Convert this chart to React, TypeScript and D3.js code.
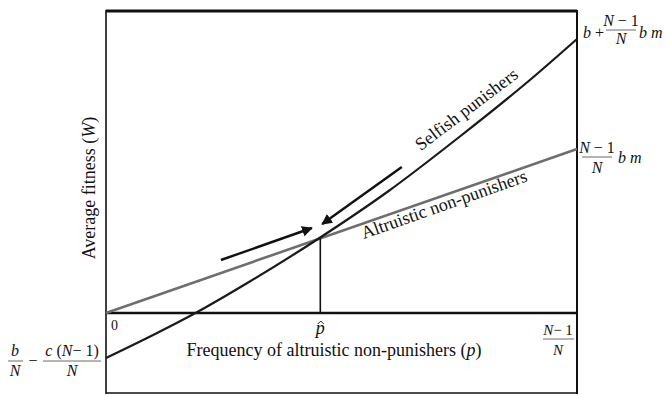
import * as d3 from "d3";

// frequency of altruistic non-punishers, normalised so (N-1)/N = 1
const selfishP = [0, 0.1, 0.19, 0.3, 0.45, 0.6, 0.75, 0.9, 1.0];
const selfishW = [-0.45, -0.22, 0, 0.3, 0.74, 1.22, 1.76, 2.33, 2.74];
const altruisticP = [0, 1];
const altruisticW = [0, 1.64];
const pHat = 0.455;
const pHatW = 0.746;
// arrows toward the equilibrium: [p0, W0, p1, W1]
const arrows = [
  [0.244, 0.53, 0.437, 0.85],
  [0.628, 1.46, 0.459, 0.89],
];

const W = 669;
const H = 395;
const ts = { fontFamily: "Liberation Serif" };

export default function App() {
  const x = d3.scaleLinear().domain([0, 1]).range([106, 577]);
  const y = d3.scaleLinear().domain([-0.81, 3.03]).range([394, 10]);

  const curve = d3
    .line<number>()
    .x((_, i) => x(selfishP[i]))
    .y((d) => y(d))
    .curve(d3.curveMonotoneX);

  const straight = d3
    .line<number>()
    .x((_, i) => x(altruisticP[i]))
    .y((d) => y(d));

  const hx = x(pHat);

  return (
    <svg
      width={W}
      height={H}
      style={{ position: "absolute", left: 0, top: 0, background: "#fff", fontFamily: "Liberation Serif" }}
    >
      <defs>
        <marker
          id="head"
          viewBox="0 0 10 10"
          refX="9"
          refY="5"
          markerWidth="4.5"
          markerHeight="4.5"
          orient="auto"
        >
          <path d="M0,0 L10,5 L0,10 z" fill="#111" />
        </marker>
      </defs>

      {/* frame */}
      <line x1={x(0)} x2={x(1)} y1={y(3.03) + 1} y2={y(3.03) + 1} stroke="#111" strokeWidth={3} />
      <line x1={x(0)} x2={x(0)} y1={y(3.03)} y2={y(-0.81)} stroke="#111" strokeWidth={1.6} />
      <line x1={x(1)} x2={x(1)} y1={y(3.03)} y2={y(-0.81)} stroke="#111" strokeWidth={2} />
      <line x1={x(0)} x2={x(1)} y1={y(-0.81) - 1} y2={y(-0.81) - 1} stroke="#111" strokeWidth={1.6} />
      {/* p axis */}
      <line x1={x(0)} x2={x(1)} y1={y(0)} y2={y(0)} stroke="#111" strokeWidth={2.6} />

      {/* lines */}
      <path d={straight(altruisticW) ?? ""} fill="none" stroke="#6e6e6e" strokeWidth={2.6} />
      <path d={curve(selfishW) ?? ""} fill="none" stroke="#1a1a1a" strokeWidth={2.2} />
      <line x1={hx} x2={hx} y1={y(pHatW)} y2={y(0)} stroke="#111" strokeWidth={1.6} />

      {arrows.map((a, i) => (
        <line
          key={i}
          x1={x(a[0])}
          y1={y(a[1])}
          x2={x(a[2])}
          y2={y(a[3])}
          stroke="#111"
          strokeWidth={2.4}
          markerEnd="url(#head)"
        />
      ))}

      {/* curve labels */}
      <text style={ts} transform="translate(470,114) rotate(-37)" textAnchor="middle" fontSize={18} fill="#111">
        Selfish punishers
      </text>
      <text style={ts} transform="translate(446,210) rotate(-19.5)" textAnchor="middle" fontSize={18} fill="#111">
        Altruistic non-punishers
      </text>

      {/* axis titles */}
      <text style={ts} transform="translate(95,188) rotate(-90)" textAnchor="middle" fontSize={18} fill="#111">
        Average fitness (<tspan fontStyle="italic">W</tspan>)
      </text>
      <text style={ts} x={334} y={356} textAnchor="middle" fontSize={18} fill="#111">
        Frequency of altruistic non-punishers (<tspan fontStyle="italic">p</tspan>)
      </text>

      {/* tick labels */}
      <text style={ts} x={x(0) + 5} y={330} fontSize={14} fill="#111">0</text>
      <text style={ts} x={hx} y={334} textAnchor="middle" fontSize={18} fontStyle="italic" fill="#111">p</text>
      <path d={`M${hx - 2.5},${324} L${hx + 0.5},${321} L${hx + 3.5},${324}`} fill="none" stroke="#111" strokeWidth={0.9} />

      {/* (N-1)/N at p end */}
      <text style={ts} x={558} y={335} textAnchor="middle" fontSize={15} fill="#111">
        <tspan fontStyle="italic">N</tspan>− 1
      </text>
      <line x1={543} x2={574} y1={339} y2={339} stroke="#444" strokeWidth={0.8} />
      <text style={ts} x={558} y={355} textAnchor="middle" fontSize={15} fontStyle="italic" fill="#111">N</text>

      {/* left intercept b/N - c(N-1)/N */}
      <text style={ts} x={15} y={356} textAnchor="middle" fontSize={16} fontStyle="italic" fill="#111">b</text>
      <line x1={8} x2={23} y1={361} y2={361} stroke="#444" strokeWidth={0.8} />
      <text style={ts} x={15} y={376} textAnchor="middle" fontSize={16} fontStyle="italic" fill="#111">N</text>
      <text style={ts} x={33} y={366} textAnchor="middle" fontSize={16} fill="#111">−</text>
      <text style={ts} x={72} y={356} textAnchor="middle" fontSize={16} fill="#111">
        <tspan fontStyle="italic">c</tspan> (<tspan fontStyle="italic">N</tspan>− 1)
      </text>
      <line x1={43} x2={101} y1={361} y2={361} stroke="#444" strokeWidth={0.8} />
      <text style={ts} x={72} y={376} textAnchor="middle" fontSize={16} fontStyle="italic" fill="#111">N</text>

      {/* right top: b + (N-1)/N b m */}
      <text style={ts} x={583} y={38} fontSize={16} fill="#111">
        <tspan fontStyle="italic">b</tspan> +
      </text>
      <text style={ts} x={621} y={26} textAnchor="middle" fontSize={16} fill="#111">
        <tspan fontStyle="italic">N</tspan> − 1
      </text>
      <line x1={606} x2={636} y1={30} y2={30} stroke="#444" strokeWidth={0.8} />
      <text style={ts} x={621} y={44} textAnchor="middle" fontSize={16} fontStyle="italic" fill="#111">N</text>
      <text style={ts} x={639} y={38} fontSize={16} fontStyle="italic" fill="#111">b m</text>

      {/* right middle: (N-1)/N b m */}
      <text style={ts} x={597} y={153} textAnchor="middle" fontSize={16} fill="#111">
        <tspan fontStyle="italic">N</tspan> − 1
      </text>
      <line x1={582} x2={612} y1={157} y2={157} stroke="#444" strokeWidth={0.8} />
      <text style={ts} x={597} y={173} textAnchor="middle" fontSize={16} fontStyle="italic" fill="#111">N</text>
      <text style={ts} x={618} y={163} fontSize={16} fontStyle="italic" fill="#111">b m</text>
    </svg>
  );
}
